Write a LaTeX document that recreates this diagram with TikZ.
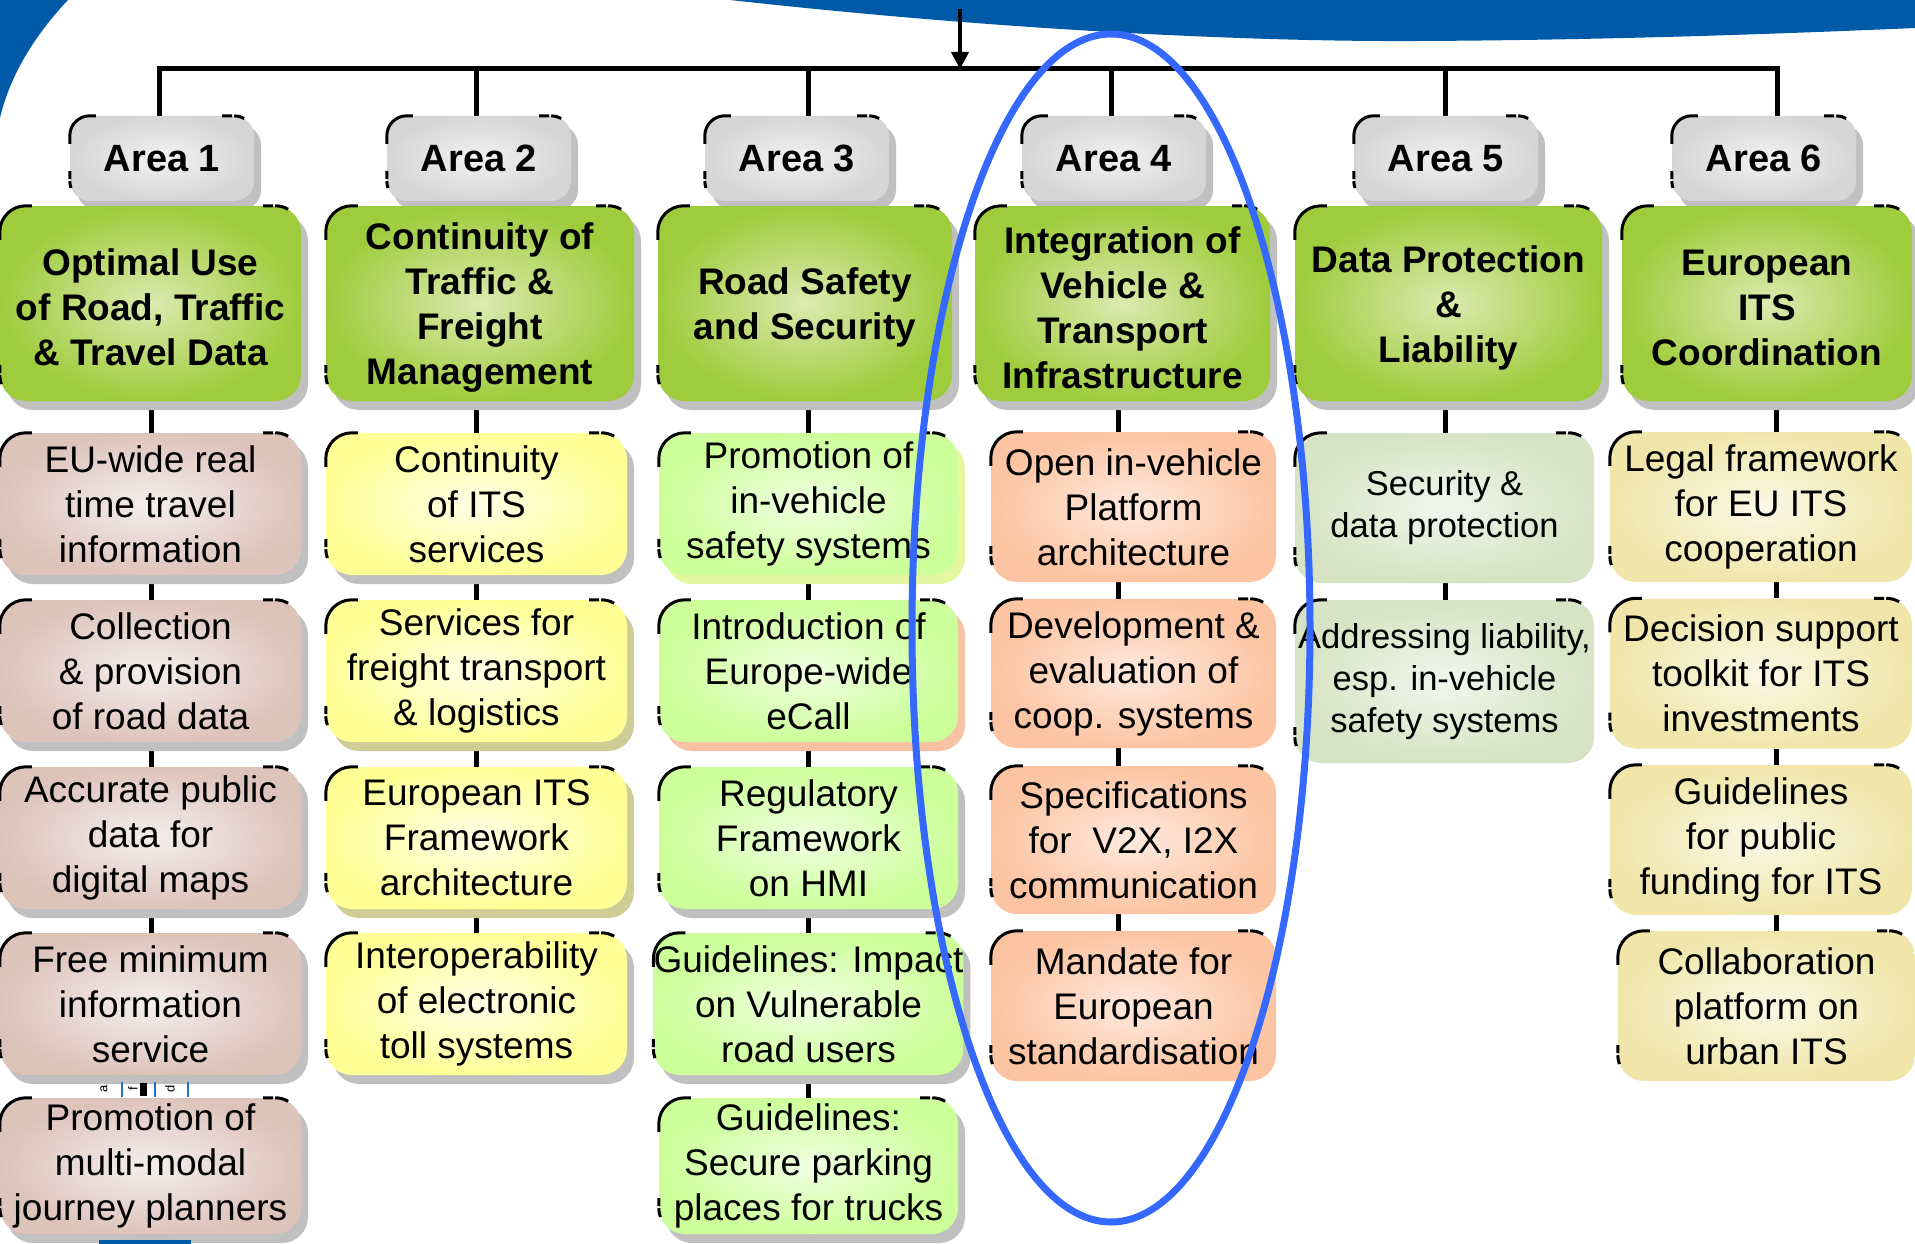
\documentclass[tikz,border=0pt]{standalone}
\usepackage{fontspec}
\setmainfont{Liberation Sans}
\usetikzlibrary{calc,shadows,backgrounds,arrows.meta}

\definecolor{eublue}{RGB}{0,90,168}
\definecolor{ellblue}{RGB}{53,104,255}
\definecolor{artblue}{RGB}{30,115,205}
\definecolor{greyO}{RGB}{214,214,214}
\definecolor{greyI}{RGB}{242,242,242}
\definecolor{titO}{RGB}{158,204,60}
\definecolor{titI}{RGB}{220,234,176}
\definecolor{brO}{RGB}{221,196,187}
\definecolor{brI}{RGB}{245,238,236}
\definecolor{yeO}{RGB}{255,255,150}
\definecolor{yeI}{RGB}{255,255,232}
\definecolor{lgO}{RGB}{204,255,153}
\definecolor{lgI}{RGB}{240,255,226}
\definecolor{saO}{RGB}{252,196,162}
\definecolor{saI}{RGB}{255,233,222}
\definecolor{ggO}{RGB}{214,227,196}
\definecolor{ggI}{RGB}{241,246,236}
\definecolor{khO}{RGB}{240,230,170}
\definecolor{khI}{RGB}{251,248,230}
\definecolor{shd}{RGB}{192,192,192}
\definecolor{khS}{RGB}{207,204,150}
\definecolor{ygS}{RGB}{228,247,160}
\definecolor{salS}{RGB}{247,193,163}

\tikzset{
  box/.style={rectangle, rounded corners=26pt, inner sep=0pt, align=center,
    text=black, font=\fontsize{37}{45}\selectfont},
  shad/.style={general shadow={fill=#1, shadow xshift=7pt, shadow yshift=-9pt}},
  areabox/.style={box, rounded corners=20pt, minimum width=184pt, minimum height=85pt,
    inner color=greyI, outer color=greyO, shad=shd,
    font=\fontsize{38}{45}\selectfont\bfseries},
  titlebox/.style={box, minimum height=195pt, inner color=titI, outer color=titO,
    shad=shd, font=\fontsize{37}{45}\selectfont\bfseries},
  subA/.style={box, minimum width=301pt, minimum height=142pt, inner color=brI, outer color=brO},
  subB/.style={box, minimum width=301pt, minimum height=142pt, inner color=yeI, outer color=yeO},
  subC/.style={box, minimum width=299pt, minimum height=142pt, inner color=lgI, outer color=lgO},
  subD/.style={box, minimum width=285pt, minimum height=150pt, inner color=saI, outer color=saO},
  subE/.style={box, minimum width=299pt, minimum height=150pt, inner color=ggI, outer color=ggO,
    font=\fontsize{34.5}{42}\selectfont},
  subF/.style={box, minimum width=302pt, minimum height=150pt, inner color=khI, outer color=khO},
  conn/.style={line width=5pt, black},
  brkline/.style={line width=3pt, black},
}

\newcommand\brk[2]{%
  \draw[brkline] ($(#1.north west)+(0,#2+8)$) -- ++(0,-8)
     arc[start angle=180,end angle=270,radius=#2] -- ++(6,0);
  \draw[brkline] ($(#1.north east)+(-#2-12,0)$) -- ++(10,0) ++(2,0)
     arc[start angle=270,end angle=300,radius=#2];
  \draw[brkline] ($(#1.south west)+(0,-#2-10)$) -- ++(0,8) ++(0,2)
     arc[start angle=180,end angle=160,radius=#2];
}
\newcommand\conline[3]{\draw[conn] (#1.south -| #3) -- (#2.north -| #3);}
% title text: box and text placed separately so the text sits slightly lower
\newcommand\titletext[2]{\node[align=center, inner sep=0pt, font=\fontsize{37}{45}\selectfont\bfseries]
   (#1txt) at ([yshift=-4pt]#1.center) {#2};}

\begin{document}
\begin{tikzpicture}[x=1pt,y=-1pt]
\useasboundingbox (0,0) rectangle (1915,1244);
\clip (0,0) rectangle (1915,1244);

% ---------- nodes ----------
\node[areabox] (a1) at (162,158.5) {Area 1};
\node[areabox] (a2) at (479,158.5) {Area 2};
\node[areabox] (a3) at (797,158.5) {Area 3};
\node[areabox] (a4) at (1114,158.5) {Area 4};
\node[areabox] (a5) at (1446,158.5) {Area 5};
\node[areabox] (a6) at (1764,158.5) {Area 6};

\node[titlebox, minimum width=301pt] (t1) at (150.5,303.5) {};
\node[titlebox, minimum width=308pt] (t2) at (480,303.5) {};
\node[titlebox, minimum width=294pt] (t3) at (805,303.5) {};
\node[titlebox, minimum width=295pt] (t4) at (1122.5,303.5) {};
\node[titlebox, minimum width=307pt] (t5) at (1448.5,303.5) {};
\node[titlebox, minimum width=290pt] (t6) at (1767,303.5) {};
\titletext{t1}{Optimal Use\\of Road, Traffic\\\& Travel Data}
\titletext{t2}{Continuity of\\Traffic \&\\Freight\\Management}
\titletext{t3}{Road Safety\\and Security}
\titletext{t4}{Integration of\\Vehicle \&\\Transport\\Infrastructure}
\titletext{t5}{Data Protection\\\&\\Liability}
\titletext{t6}{European\\ITS\\Coordination}

% column 1
\node[subA, shad=shd] (r11) at (150.5,504) {EU-wide real\\time travel\\information};
\node[subA, shad=shd] (r12) at (150.5,671) {Collection\\\& provision\\of road data};
\node[subA, shad=shd] (r13) at (150.5,838) {Accurate public\\data for\\digital maps};
\node[subA, shad=shd] (r14) at (150.5,1004) {Free minimum\\information\\service};
\node[subA, shad=shd, minimum height=136pt] (r15) at (150.5,1166) {Promotion of\\multi-modal\\journey planners};
% column 2
\node[subB, shad=shd] (r21) at (476.5,504) {Continuity\\of ITS\\services};
\node[subB, shad=khS] (r22) at (476.5,671) {Services for\\freight transport\\\& logistics};
\node[subB, shad=khS] (r23) at (476.5,838) {European ITS\\Framework\\architecture};
\node[subB, shad=shd] (r24) at (476.5,1004) {Interoperability\\of electronic\\toll systems};
% column 3
\node[subC, shad=ygS] (r31) at (808.5,504) {Promotion of\\in-vehicle\\safety systems};
\node[subC, shad=salS] (r32) at (808.5,671) {Introduction of\\Europe-wide\\eCall};
\node[subC, shad=shd] (r33) at (808.5,838) {Regulatory\\Framework\\on HMI};
\node[subC, shad=shd] (r34) at (808.5,1004) {Guidelines: Impact\\on Vulnerable\\road users};
\node[subC, shad=shd, minimum height=136pt] (r35) at (808.5,1166) {Guidelines:\\Secure parking\\places for trucks};
% column 4
\node[subD] (r41) at (1133.5,507) {Open in-vehicle\\Platform\\architecture};
\node[subD, minimum height=149pt] (r42) at (1133.5,673.5) {Development \&\\evaluation of\\coop. systems};
\node[subD, minimum height=148pt] (r43) at (1133.5,840) {Specifications\\for~~V2X, I2X\\communication};
\node[subD] (r44) at (1133.5,1006) {Mandate for\\European\\standardisation};
% column 5
\node[subE] (r51) at (1444.5,508) {Security \&\\data protection};
\node[subE, minimum height=163pt] (r52) at (1444.5,681.5) {Addressing liability,\\esp. in-vehicle\\safety systems};
% column 6
\node[subF] (r61) at (1761,507) {Legal framework\\for EU ITS\\cooperation};
\node[subF] (r62) at (1761,673.5) {Decision support\\toolkit for ITS\\investments};
\node[subF] (r63) at (1761,840) {Guidelines\\for public\\funding for ITS};
\node[subF, minimum width=297pt] (r64) at (1766.5,1006) {Collaboration\\platform on\\urban ITS};

% ---------- coordinates for connectors ----------
\coordinate (bus) at (0,69);
\coordinate (src) at (960,9);
\coordinate (d1) at (159,0);  \coordinate (k1) at (151,0);
\coordinate (d2) at (476,0);  \coordinate (k2) at (476,0);
\coordinate (d3) at (808,0);  \coordinate (k3) at (808,0);
\coordinate (d4) at (1111,0); \coordinate (k4) at (1118,0);
\coordinate (d5) at (1445,0); \coordinate (k5) at (1445,0);
\coordinate (d6) at (1777,0); \coordinate (k6) at (1776,0);

\begin{pgfonlayer}{background}
  % blue slide decoration
  \fill[eublue] (730,0) .. controls (1000,30) and (1250,42) .. (1420,41)
     .. controls (1620,40) and (1800,33) .. (1915,28) -- (1915,0) -- cycle;
  \fill[eublue] (0,0) -- (68,0) .. controls (35,35) and (10,75) .. (0,118) -- cycle;
  % bus and drops
  \draw[conn, line join=miter] (a1.north -| d1) -- (d1 |- bus) -- (d6 |- bus) -- (a6.north -| d6);
  \foreach \i in {2,...,5} { \draw[conn] (a\i.north -| d\i) -- (d\i |- bus); }
  \draw[line width=4pt, -{Triangle[length=17pt,width=17pt]}] (src) -- (src |- bus);
  % column connectors
  \conline{t1}{r11}{k1} \conline{r11}{r12}{k1} \conline{r12}{r13}{k1} \conline{r13}{r14}{k1}
  \conline{t2}{r21}{k2} \conline{r21}{r22}{k2} \conline{r22}{r23}{k2} \conline{r23}{r24}{k2}
  \conline{t3}{r31}{k3} \conline{r31}{r32}{k3} \conline{r32}{r33}{k3} \conline{r33}{r34}{k3} \conline{r34}{r35}{k3}
  \conline{t4}{r41}{k4} \conline{r41}{r42}{k4} \conline{r42}{r43}{k4} \conline{r43}{r44}{k4}
  \conline{t5}{r51}{k5} \conline{r51}{r52}{k5}
  \conline{t6}{r61}{k6} \conline{r61}{r62}{k6} \conline{r62}{r63}{k6} \conline{r63}{r64}{k6}
\end{pgfonlayer}

% blue bar at the bottom edge (below the last box)
\fill[eublue] (99,1240) rectangle (191,1244);

% ---------- corner marks ----------
\foreach \n in {a1,a2,a3,a4,a5,a6} { \brk{\n}{20} }
\foreach \n in {t1,t2,t3,t4,t5,t6,r11,r12,r13,r14,r15,r21,r22,r23,r24,r31,r32,r33,r34,r35,r41,r42,r43,r44,r51,r52,r61,r62,r63,r64} { \brk{\n}{26} }

% ---------- small artefact between boxes ----------
\foreach \xx in {122,155,188} { \draw[artblue, line width=2pt] (\xx,1082) -- (\xx,1097); }
\fill[black] (140,1083) rectangle (147,1096);
\node[rotate=90, inner sep=0pt, font=\fontsize{13}{13}\selectfont] (arta) at (104,1089) {a};
\node[rotate=90, inner sep=0pt, font=\fontsize{13}{13}\selectfont] (artf) at (133,1089) {f};
\node[rotate=90, inner sep=0pt, font=\fontsize{13}{13}\selectfont] (artd) at (170,1089) {d};

% ---------- highlight ellipse ----------
\draw[ellblue, line width=7pt] (1111,628) ellipse [x radius=199, y radius=594];
\end{tikzpicture}
\end{document}
